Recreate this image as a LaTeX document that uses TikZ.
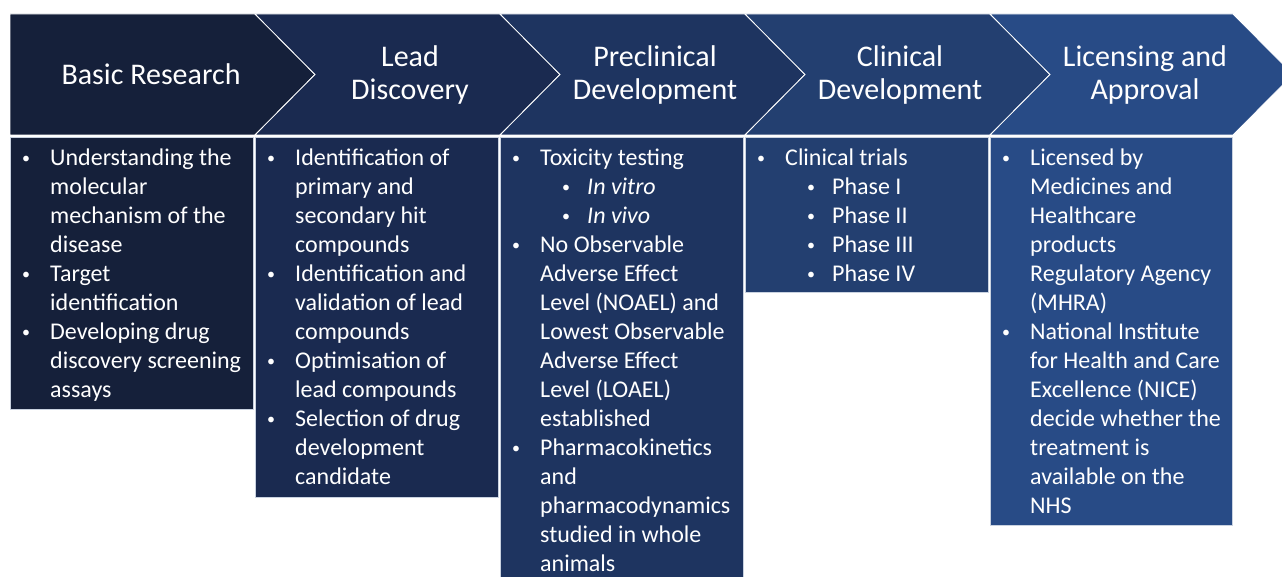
\documentclass[tikz,border=0pt]{standalone}
\usepackage{fontspec}
\setmainfont{Carlito}
\usetikzlibrary{positioning}

\definecolor{basiccol}{HTML}{15203A}
\definecolor{leadcol}{HTML}{1A2A50}
\definecolor{precol}{HTML}{1E3460}
\definecolor{clincol}{HTML}{233F70}
\definecolor{liccol}{HTML}{284B86}
\definecolor{edgecol}{HTML}{C9D2E0}

\newcommand{\smalldot}{\raisebox{2pt}{\fontsize{16}{16}\selectfont\textbullet}}
\newcommand{\bul}{\makebox[28pt][l]{\smalldot}}
\newcommand{\subbul}{\makebox[47pt][l]{\hspace{22pt}\smalldot}}

\begin{document}
\begin{tikzpicture}[x=1pt,y=-1pt,
    stagetitle/.style={text=white,align=center,font=\fontsize{30}{33}\selectfont},
    listbox/.style={anchor=north west,inner sep=0pt,text=white,font=\fontsize{24}{29}\selectfont},
    chev/.style={draw=white,line width=0.8pt},
    panel/.style={draw=edgecol,line width=0.6pt}]
        \useasboundingbox (0,0) rectangle (1282,577);
        %\draw[gray] (0,0) rectangle (1282,577);

        %箭頭
        \draw[chev,fill=basiccol] (10,14) -- (255,14) -- (315,74.5) -- (255,135) -- (10,135) -- cycle;
        \draw[chev,fill=leadcol] (255,14) -- (500,14) -- (560,74.5) -- (500,135) -- (255,135) -- (315,74.5) -- cycle;
        \draw[chev,fill=precol] (500,14) -- (745,14) -- (805,74.5) -- (745,135) -- (500,135) -- (560,74.5) -- cycle;
        \draw[chev,fill=clincol] (745,14) -- (990,14) -- (1050,74.5) -- (990,135) -- (745,135) -- (805,74.5) -- cycle;
        \draw[chev,fill=liccol] (990,14) -- (1233,14) -- (1293,74.5) -- (1233,135) -- (990,135) -- (1050,74.5) -- cycle;

        \node[stagetitle] (basic) at (151,74) {Basic Research};
        \node[stagetitle] (lead) at (410,75) {Lead\\Discovery};
        \node[stagetitle] (pre) at (655,75) {Preclinical\\Development};
        \node[stagetitle] (clin) at (900,75) {Clinical\\Development};
        \node[stagetitle] (lic) at (1145,75) {Licensing and\\Approval};

        %方框
        \draw[panel,fill=basiccol] (10,137) rectangle (253,409);
        \draw[panel,fill=leadcol] (255,137) rectangle (498,497);
        \draw[panel,fill=precol] (500,137) rectangle (743,590);
        \draw[panel,fill=clincol] (745,137) rectangle (988,292);
        \draw[panel,fill=liccol] (990,137) rectangle (1232,525);

        \node[listbox] (basiclist) at (22,145) {\begin{tabular}{@{}l@{}l@{}}
            \bul & Understanding the\\ & molecular\\ & mechanism of the\\ & disease\\
            \bul & Target\\ & identification\\
            \bul & Developing drug\\ & discovery screening\\ & assays
        \end{tabular}};
        \node[listbox] (leadlist) at (267,145) {\begin{tabular}{@{}l@{}l@{}}
            \bul & Identification of\\ & primary and\\ & secondary hit\\ & compounds\\
            \bul & Identification and\\ & validation of lead\\ & compounds\\
            \bul & Optimisation of\\ & lead compounds\\
            \bul & Selection of drug\\ & development\\ & candidate
        \end{tabular}};
        \node[listbox] (prelist) at (512,145) {\begin{tabular}{@{}l@{}l@{}}
            \bul & Toxicity testing\\
            & \subbul\textit{In vitro}\\
            & \subbul\textit{In vivo}\\
            \bul & No Observable\\ & Adverse Effect\\ & Level (NOAEL) and\\ & Lowest Observable\\
                 & Adverse Effect\\ & Level (LOAEL)\\ & established\\
            \bul & Pharmacokinetics\\ & and\\ & pharmacodynamics\\ & studied in whole\\ & animals
        \end{tabular}};
        \node[listbox] (clinlist) at (757,145) {\begin{tabular}{@{}l@{}l@{}}
            \bul & Clinical trials\\
            & \subbul Phase I\\
            & \subbul Phase II\\
            & \subbul Phase III\\
            & \subbul Phase IV
        \end{tabular}};
        \node[listbox] (liclist) at (1002,145) {\begin{tabular}{@{}l@{}l@{}}
            \bul & Licensed by\\ & Medicines and\\ & Healthcare\\ & products\\
                 & Regulatory Agency\\ & (MHRA)\\
            \bul & National Institute\\ & for Health and Care\\ & Excellence (NICE)\\
                 & decide whether the\\ & treatment is\\ & available on the\\ & NHS
        \end{tabular}};
\end{tikzpicture}
\end{document}
